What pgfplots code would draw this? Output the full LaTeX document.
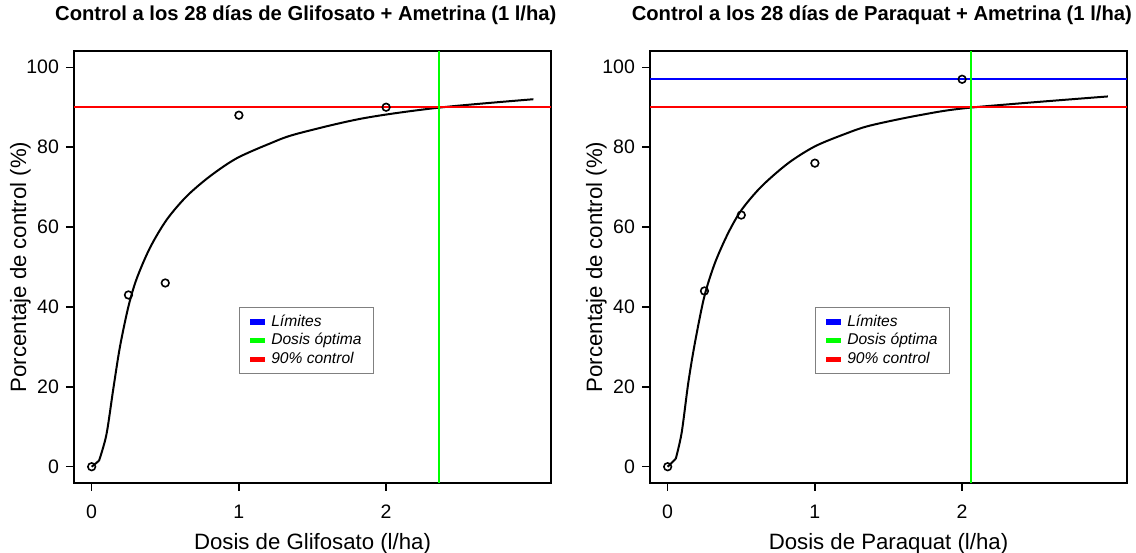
\documentclass[border=0pt]{standalone}
\usepackage{fontspec}
\setmainfont{Liberation Sans}
\usepackage{pgfplots}
\pgfplotsset{compat=1.18}

\pgfplotsset{
  rpanel/.style={
    scale only axis, width=238.5pt, height=215.7pt,
    xmin=-0.12, xmax=3.12, ymin=-4, ymax=104,
    xtick={0,1,2}, ytick={0,20,...,100},
    tick pos=left, tick align=outside, major tick length=4pt,
    every tick/.style={black, line width=0.7pt},
    axis line style={line width=1pt},
    /pgf/number format/assume math mode=true,
    tick label style={font=\fontsize{9.75}{11}\selectfont},
    yticklabel style={anchor=east, inner sep=0pt, xshift=-3.35pt},
    xticklabel style={anchor=base, inner sep=0pt, yshift=-13.8pt},
    title style={at={(axis description cs:0.486,1.0447)}, anchor=base,
      font=\bfseries\fontsize{10.1}{12}\selectfont},
    xlabel style={at={(axis description cs:0.5,-0.1537)}, anchor=base,
      font=\fontsize{11.1}{13}\selectfont},
    ylabel style={at={(axis description cs:-0.1006,0.5)}, anchor=base,
      font=\fontsize{11.1}{13}\selectfont},
    legend image code/.code={\fill[#1] (0pt,-1pt) rectangle (6.7pt,1pt);},
    legend style={at={(axis cs:1,40)}, anchor=north west, draw=gray,
      line width=0.6pt, fill=white,
      font=\fontsize{7.8}{9}\selectfont\itshape,
      inner xsep=5.5pt, inner ysep=3pt, row sep=0.9pt,
      nodes={inner sep=0.6pt},
      /tikz/every odd column/.append style={column sep=2.5pt}},
    legend cell align=left,
  },
  pts/.style={only marks, mark=o, mark size=1.9pt, black, line width=0.8pt},
  fit/.style={black, line width=1pt, mark=none},
}

\begin{document}
\begin{tikzpicture}
\path[use as bounding box] (0,0) rectangle (568pt,276pt);

% Glifosato + Ametrina
\begin{axis}[rpanel, at={(37pt,34.65pt)}, anchor=south west,
  title={Control a los 28 días de Glifosato + Ametrina (1 l/ha)},
  xlabel={Dosis de Glifosato (l/ha)},
  ylabel={Porcentaje de control (\%)}]
\addlegendimage{blue}
\addlegendentry{Límites}
\addlegendimage{green}
\addlegendentry{Dosis óptima}
\addlegendimage{red}
\addlegendentry{90\% control}
\addplot[pts, forget plot] coordinates {(0,0) (0.25,43) (0.5,46) (1,88) (2,90)};
\addplot[fit, forget plot] coordinates {(0,0) (0.05,1.5)};
\addplot[fit, smooth, forget plot] coordinates {
  (0.05,1.5) (0.10,8) (0.147,19.5) (0.192,30) (0.249,40) (0.305,47)
  (0.396,54.8) (0.509,61.8) (0.645,67.7) (0.803,72.7) (0.984,77.2)
  (1.21,80.9) (1.39,83.3) (1.84,87.2) (2.36,89.9) (3.0,92.0)};
\addplot[red, line width=1pt, forget plot] coordinates {(-0.12,90) (3.12,90)};
\addplot[green, line width=1pt, forget plot] coordinates {(2.36,-4) (2.36,104)};
\end{axis}

% Paraquat + Ametrina
\begin{axis}[rpanel, at={(325pt,34.65pt)}, anchor=south west,
  title={Control a los 28 días de Paraquat + Ametrina (1 l/ha)},
  xlabel={Dosis de Paraquat (l/ha)},
  ylabel={Porcentaje de control (\%)}]
\addlegendimage{blue}
\addlegendentry{Límites}
\addlegendimage{green}
\addlegendentry{Dosis óptima}
\addlegendimage{red}
\addlegendentry{90\% control}
\addplot[pts, forget plot] coordinates {(0,0) (0.25,44) (0.5,63) (1,76) (2,97)};
\addplot[fit, forget plot] coordinates {(0,0) (0.055,2)};
\addplot[fit, smooth, forget plot] coordinates {
  (0.055,2) (0.095,8.5) (0.14,21) (0.185,31) (0.249,42.6) (0.321,51)
  (0.411,58.5) (0.502,64.3) (0.638,70.2) (0.819,76) (1.0,80.2)
  (1.204,83.3) (1.374,85.4) (1.71,88) (2.057,89.9) (2.99,92.7)};
\addplot[blue, line width=1pt, forget plot] coordinates {(-0.12,97) (3.12,97)};
\addplot[red, line width=1pt, forget plot] coordinates {(-0.12,90) (3.12,90)};
\addplot[green, line width=1pt, forget plot] coordinates {(2.06,-4) (2.06,104)};
\end{axis}
\end{tikzpicture}
\end{document}
